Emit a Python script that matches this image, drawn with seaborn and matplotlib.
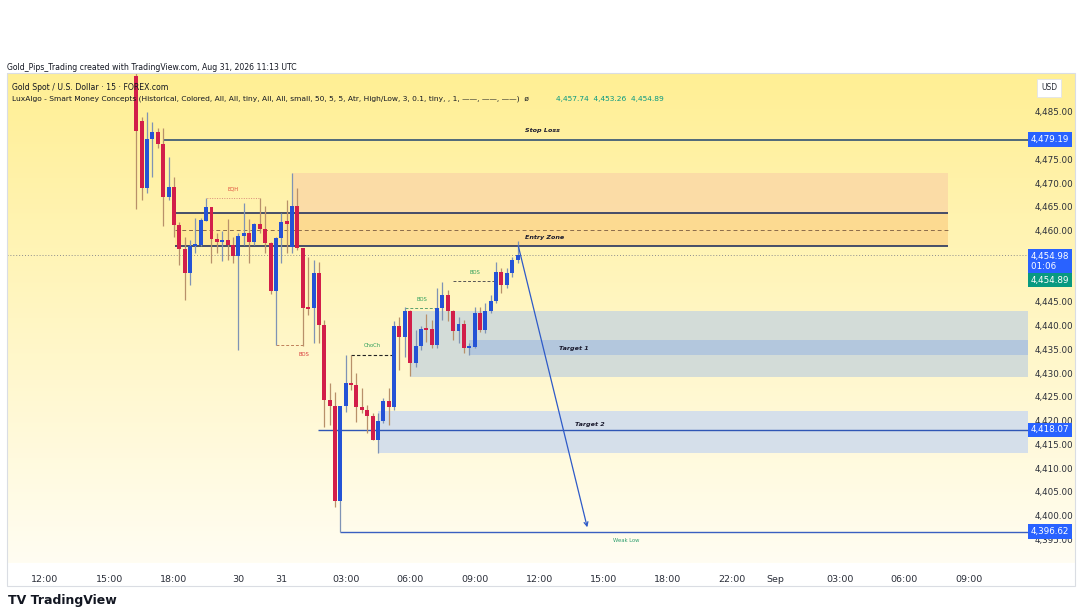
import numpy as np
import pandas as pd
import seaborn as sns
import matplotlib
matplotlib.use("Agg")
import matplotlib.pyplot as plt
from matplotlib.patches import Rectangle

# ---------------- data ----------------
first_bar = 17
opens = [4492.6, 4483.0, 4468.9, 4479.3, 4480.8, 4478.2, 4467.2, 4469.3, 4461.2, 4456.1,
         4451.2, 4456.8, 4457.0, 4462.1, 4464.9, 4458.2, 4457.7, 4458.1, 4457.0, 4454.7,
         4458.8, 4459.6, 4457.7, 4461.4, 4460.4, 4457.5, 4447.4, 4458.4, 4461.8, 4456.6,
         4465.2, 4456.3, 4443.7, 4443.7, 4451.0, 4440.2, 4424.4, 4423.0, 4403.0, 4423.0,
         4428.0, 4427.5, 4422.8, 4422.3, 4421.1, 4416.0, 4420.0, 4424.2, 4422.8, 4440.0,
         4437.6, 4443.0, 4432.1, 4435.7, 4439.3, 4439.3, 4435.9, 4443.7, 4446.5, 4443.2,
         4438.8, 4440.4, 4435.3, 4435.5, 4442.7, 4439.0, 4443.0, 4445.1, 4451.4, 4448.6,
         4451.0, 4453.8]
highs = [4494.0, 4484.0, 4485.0, 4482.8, 4481.6, 4481.6, 4475.6, 4471.4, 4461.9, 4458.7,
         4458.1, 4462.7, 4462.7, 4466.8, 4465.0, 4459.5, 4460.0, 4462.4, 4458.7, 4459.5,
         4465.9, 4462.4, 4461.6, 4466.8, 4465.2, 4457.6, 4458.7, 4463.7, 4466.5, 4472.2,
         4469.0, 4454.9, 4454.5, 4453.8, 4453.4, 4441.2, 4428.0, 4426.1, 4423.1, 4433.8,
         4433.8, 4430.0, 4426.9, 4423.3, 4421.6, 4421.7, 4424.8, 4426.9, 4440.9, 4441.9,
         4444.0, 4443.3, 4439.1, 4440.0, 4442.5, 4441.2, 4447.9, 4449.3, 4447.5, 4443.3,
         4441.9, 4441.2, 4436.4, 4443.9, 4444.0, 4444.8, 4446.5, 4453.5, 4452.1, 4452.2,
         4454.5, 4457.74]
lows = [4464.6, 4466.5, 4468.0, 4471.3, 4477.5, 4460.9, 4466.5, 4458.7, 4452.8, 4445.4,
        4448.6, 4455.3, 4456.8, 4462.0, 4453.2, 4455.3, 4453.7, 4453.8, 4453.1, 4434.9,
        4457.0, 4453.1, 4457.0, 4459.5, 4455.3, 4446.7, 4436.0, 4453.3, 4455.3, 4455.3,
        4455.9, 4435.7, 4442.3, 4436.4, 4436.3, 4418.7, 4419.1, 4401.9, 4396.62, 4421.9,
        4426.5, 4419.8, 4421.6, 4417.4, 4416.0, 4413.2, 4419.5, 4419.1, 4422.3, 4430.7,
        4433.5, 4429.4, 4431.4, 4434.9, 4436.6, 4435.3, 4435.3, 4441.2, 4440.9, 4437.0,
        4436.3, 4434.2, 4433.8, 4435.3, 4438.7, 4438.5, 4442.7, 4444.8, 4446.9, 4447.9,
        4450.3, 4453.26]
closes = [4480.9, 4468.9, 4479.3, 4480.8, 4478.2, 4467.2, 4469.3, 4461.2, 4456.1, 4451.2,
          4456.8, 4457.0, 4462.3, 4464.9, 4458.2, 4457.7, 4458.1, 4457.0, 4454.7, 4458.9,
          4459.5, 4457.7, 4461.4, 4460.4, 4457.5, 4447.4, 4458.4, 4461.8, 4461.5, 4465.2,
          4456.3, 4443.7, 4443.5, 4451.0, 4440.2, 4424.4, 4423.0, 4403.0, 4423.0, 4428.0,
          4427.5, 4422.8, 4422.3, 4421.1, 4416.0, 4420.0, 4424.2, 4422.8, 4440.0, 4437.6,
          4443.0, 4432.1, 4435.7, 4439.3, 4439.1, 4435.9, 4443.7, 4446.5, 4443.2, 4438.8,
          4440.4, 4435.3, 4435.5, 4442.7, 4439.0, 4443.0, 4445.1, 4451.4, 4448.6, 4451.0,
          4453.8, 4454.89]

time_tick_bars = [0, 12, 24, 36, 44, 56, 68, 80, 92, 104, 116, 128, 136, 148, 160, 172]
time_tick_labels = ["12:00", "15:00", "18:00", "30", "31", "03:00", "06:00", "09:00",
                    "12:00", "15:00", "18:00", "22:00", "Sep", "03:00", "06:00", "09:00"]
price_ticks = [4395, 4400, 4405, 4410, 4415, 4420, 4425, 4430, 4435, 4440, 4445,
               4460, 4465, 4470, 4475, 4485]

stop_loss = 4479.19
entry_top, entry_mid, entry_bot = 4463.7, 4460.2, 4456.8
ob_top = 4472.2
t1_zone = (4429.2, 4443.1)
t1_band = (4433.8, 4437.0)
t2_zone = (4413.2, 4422.1)
target2 = 4418.07
weak_low = 4396.62
last_price = 4454.98
last_close = 4454.89

df = pd.DataFrame({"bar": np.arange(first_bar, first_bar + len(opens)),
                   "open": opens, "high": highs, "low": lows, "close": closes})

# ---------------- figure ----------------
sns.set_theme(style="white")
plt.rcParams["font.family"] = ["DejaVu Sans"]
W, H = 1080, 608
fig = plt.figure(figsize=(10.8, 6.08), dpi=100, facecolor="white")

def fx(px): return px / W
def fy(py): return 1 - py / H

# gradient background panel (chart + price axis)
bg = fig.add_axes([fx(7), fy(563), fx(1075 - 7), (563 - 73) / H])
top_c = np.array([255, 239, 148]) / 255
bot_c = np.array([255, 253, 242]) / 255
t = np.linspace(0, 1, 256)[:, None]
grad = top_c[None, :] * (1 - t) + bot_c[None, :] * t
bg.imshow(grad[:, None, :], aspect="auto", extent=[0, 1, 0, 1])
bg.set_axis_off()
fig.patches.append(Rectangle((fx(7), fy(586)), fx(1068), (586 - 73) / H,
                             transform=fig.transFigure, fill=False, ec="#DADDE3", lw=0.8))

ax = fig.add_axes([fx(7), fy(563), fx(1028 - 7), (563 - 73) / H])
ax.patch.set_alpha(0)
xmin, xmax = -7.08, 183.05
ax.set_xlim(xmin, xmax)
ax.set_ylim(4390.05, 4493.2)
for s in ax.spines.values():
    s.set_visible(False)

# zones
ax.add_patch(Rectangle((46, entry_bot), 168.2 - 46, ob_top - entry_bot, fc="#FBD9A6", ec="none", alpha=0.85, zorder=1))
ax.add_patch(Rectangle((24.2, entry_bot), 168.2 - 24.2, entry_top - entry_bot, fc="#FFD86A", ec="none", alpha=0.35, zorder=1.1))
ax.add_patch(Rectangle((68, t1_zone[0]), xmax - 68, t1_zone[1] - t1_zone[0], fc="#D3DCD8", ec="none", zorder=1))
ax.add_patch(Rectangle((79, t1_band[0]), xmax - 79, t1_band[1] - t1_band[0], fc="#B3C7DD", ec="none", zorder=1.1))
ax.add_patch(Rectangle((62, t2_zone[0]), xmax - 62, t2_zone[1] - t2_zone[0], fc="#D5DFEA", ec="none", zorder=1))

# lines
ax.hlines(stop_loss, 22, xmax, color="#50697A", lw=1.4, zorder=2)
ax.hlines([entry_top, entry_bot], 24.2, 168.2, color="#26335F", lw=1.2, zorder=2)
ax.hlines(entry_mid, 24.2, 168.2, color="#8A6A4A", lw=0.7, ls=(0, (4, 3)), zorder=2)
ax.hlines(target2, 50.8, xmax, color="#2F56B5", lw=1.0, zorder=2)
ax.hlines(weak_low, 55, xmax, color="#3A5FC0", lw=1.0, zorder=2)
ax.hlines(last_price, xmin, xmax, color="#8E8E8E", lw=0.7, ls=(0, (1, 2)), zorder=2)

# structure markings
ax.plot([30, 30, 40, 40], [4466.0, 4466.8, 4466.8, 4466.0], color="#D98A7A", lw=0.7, ls=(0, (1, 1.5)), zorder=2)
ax.text(35, 4468.8, "EQH", color="#E0503C", fontsize=3.8, ha="center", va="center")
ax.hlines(4436.0, 43, 48, color="#C0805A", lw=0.7, ls=(0, (3, 2)), zorder=2)
ax.text(48.3, 4434.0, "BOS", color="#D83A3A", fontsize=3.8, ha="center", va="center")
ax.hlines(4433.8, 57, 65, color="#222222", lw=0.8, ls=(0, (3, 2)), zorder=2)
ax.text(61, 4435.8, "ChoCh", color="#2E9E5A", fontsize=3.8, ha="center", va="center")
ax.hlines(4443.8, 67, 73, color="#5AA070", lw=0.7, ls=(0, (3, 2)), zorder=2)
ax.text(70.2, 4445.6, "BOS", color="#2E9E5A", fontsize=3.8, ha="center", va="center")
ax.hlines(4449.4, 76, 84, color="#555555", lw=0.7, ls=(0, (3, 2)), zorder=2)
ax.text(80.1, 4451.3, "BOS", color="#2E9E5A", fontsize=3.8, ha="center", va="center")

# candles
up = df["close"] >= df["open"]
body_c = np.where(up, "#2453D6", "#D21E4A")
wick_c = np.where(up, "#7F93B5", "#B8906A")
ax.vlines(df["bar"], df["low"], df["high"], colors=wick_c, lw=0.9, zorder=3)
heights = np.maximum((df["close"] - df["open"]).abs(), 0.45)
ax.bar(df["bar"], heights, bottom=np.minimum(df["open"], df["close"]), width=0.74,
       color=body_c, edgecolor="none", zorder=4)

# arrow
ax.annotate("", xy=(101.1, 4397.0), xytext=(88, 4457.4),
            arrowprops=dict(arrowstyle="->", color="#2E5AC8", lw=0.9, mutation_scale=7), zorder=5)

# zone labels
lab = dict(fontsize=4.6, fontweight="bold", fontstyle="italic", ha="center", va="center", color="#1A1A2E")
ax.text(92.7, 4481.2, "Stop Loss", **lab)
ax.text(93.1, 4458.6, "Entry Zone", **lab)
ax.text(98.5, 4435.2, "Target 1", **lab)
ax.text(101.5, 4419.3, "Target 2", **lab)
ax.text(108.2, 4394.7, "Weak Low", color="#2E9E70", fontsize=3.8, ha="center", va="center")

# axes ticks
ax.set_xticks(time_tick_bars)
ax.set_xticklabels(time_tick_labels)
ax.set_yticks(price_ticks)
ax.set_yticklabels([f"{v:,.2f}" for v in price_ticks])
ax.yaxis.tick_right()
ax.tick_params(axis="y", length=0, pad=5, labelsize=6.3, labelcolor="#2A2E39")
ax.tick_params(axis="x", length=0, pad=9, labelsize=6.8, labelcolor="#2A2E39")
ax.grid(False)

# price boxes
def pbox(y, txt, fc, tc="white", fs=6.3):
    ax.text(1.0025, y, txt, transform=ax.get_yaxis_transform(), ha="left", va="center",
            fontsize=fs, color=tc, zorder=10, clip_on=False, linespacing=1.15,
            bbox=dict(boxstyle="square,pad=0.32", fc=fc, ec="none"))

pbox(stop_loss, "4,479.19", "#2962FF")
pbox(4453.6, "4,454.98\n01:06     ", "#2962FF")
pbox(4449.6, "4,454.89", "#089981")
pbox(target2, "4,418.07", "#2962FF")
pbox(weak_low, "4,396.62", "#2962FF")
fig.text(fx(1049), fy(88), "USD", fontsize=5.5, ha="center", va="center", color="#2A2E39",
         bbox=dict(boxstyle="square,pad=0.55", fc="white", ec="#E0E3EB", lw=0.6))

# header texts
fig.text(fx(7), fy(67), "Gold_Pips_Trading created with TradingView.com, Aug 31, 2026 11:13 UTC",
         fontsize=5.6, color="#131722", va="center", ha="left")
fig.text(fx(12), fy(87), "Gold Spot / U.S. Dollar \u00b7 15 \u00b7 FOREX.com",
         fontsize=5.6, color="#131722", va="center", ha="left", zorder=20)
fig.text(fx(12), fy(99), "LuxAlgo - Smart Money Concepts (Historical, Colored, All, All, tiny, All, All, small, 50, 5, 5, Atr, High/Low, 3, 0.1, tiny, , 1, \u2014\u2014, \u2014\u2014, \u2014\u2014)  \u00f8",
         fontsize=5.4, color="#131722", va="center", ha="left", zorder=20)
fig.text(fx(556), fy(99), "4,457.74  4,453.26  4,454.89", fontsize=5.4, color="#089981",
         va="center", ha="left", zorder=20)
fig.text(fx(8), fy(607), "TV TradingView", fontsize=9, fontweight="bold", color="#131722",
         va="bottom", ha="left")

fig.savefig("out.png", dpi=100, facecolor="white")
